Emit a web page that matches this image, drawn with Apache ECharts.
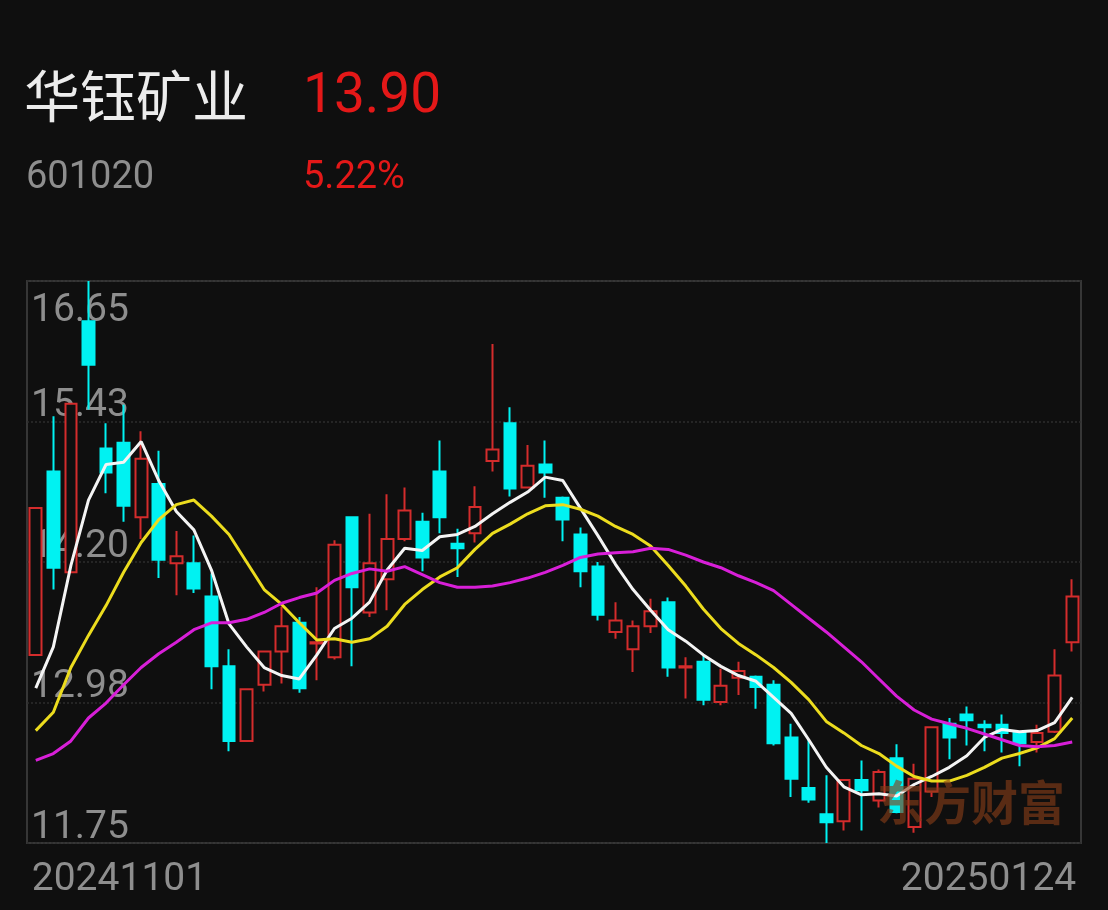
<!DOCTYPE html>
<html>
<head>
<meta charset="utf-8">
<script src="https://cdn.jsdelivr.net/npm/echarts@6/dist/echarts.min.js"></script>
<style>
  html, body { margin: 0; padding: 0; background: #0f0f0f; }
  #chart { width: 1108px; height: 910px; }
</style>
</head>
<body>
<div id="chart"></div>
<script>
// 交易日
const dates = [
  '20241101', '20241104', '20241105', '20241106', '20241107', '20241108',
  '20241111', '20241112', '20241113', '20241114', '20241115',
  '20241118', '20241119', '20241120', '20241121', '20241122',
  '20241125', '20241126', '20241127', '20241128', '20241129',
  '20241202', '20241203', '20241204', '20241205', '20241206',
  '20241209', '20241210', '20241211', '20241212', '20241213',
  '20241216', '20241217', '20241218', '20241219', '20241220',
  '20241223', '20241224', '20241225', '20241226', '20241227',
  '20241230', '20241231',
  '20250102', '20250103',
  '20250106', '20250107', '20250108', '20250109', '20250110',
  '20250113', '20250114', '20250115', '20250116', '20250117',
  '20250120', '20250121', '20250122', '20250123', '20250124'
]

// K线
const opens = [13.39, 14.99, 14.11, 16.30, 15.19, 15.24, 14.59, 14.88, 14.19, 14.19,
  13.90, 13.29, 12.64, 13.13, 13.42, 13.67, 13.49, 13.37, 14.59, 13.76,
  14.05, 14.40, 14.55, 14.99, 14.36, 14.45, 15.08, 15.41, 14.85, 15.05,
  14.76, 14.44, 14.16, 13.59, 13.44, 13.64, 13.85, 13.28, 13.33, 12.98,
  13.19, 13.20, 13.13, 12.67, 12.23, 12.00, 11.94, 12.30, 12.12, 12.49,
  11.89, 12.20, 12.79, 12.87, 12.78, 12.78, 12.71, 12.63, 12.72, 13.50]
const closes = [14.67, 14.15, 15.58, 15.92, 14.98, 14.69, 15.10, 14.22, 14.25, 13.97,
  13.29, 12.64, 13.09, 13.42, 13.64, 13.10, 13.50, 14.35, 13.98, 14.19,
  14.40, 14.65, 14.24, 14.59, 14.32, 14.68, 15.18, 14.84, 15.04, 14.98,
  14.57, 14.12, 13.74, 13.69, 13.64, 13.77, 13.28, 13.29, 13.00, 13.12,
  13.25, 13.11, 12.62, 12.31, 12.13, 11.93, 12.30, 12.21, 12.37, 12.02,
  12.31, 12.76, 12.67, 12.82, 12.76, 12.71, 12.62, 12.71, 13.21, 13.90]
const lows = [13.39, 13.96, 14.11, 15.53, 14.80, 14.55, 14.40, 14.06, 13.91, 13.93,
  13.09, 12.55, 12.64, 13.07, 13.14, 13.06, 13.17, 13.35, 13.29, 13.72,
  13.78, 14.38, 14.12, 14.45, 14.07, 14.37, 14.99, 14.77, 14.85, 14.76,
  14.38, 13.98, 13.69, 13.53, 13.24, 13.58, 13.20, 13.01, 12.95, 12.95,
  13.04, 12.92, 12.60, 12.15, 12.10, 11.75, 11.86, 11.86, 12.06, 12.01,
  11.84, 12.15, 12.48, 12.60, 12.55, 12.54, 12.42, 12.54, 12.71, 13.42]
const highs = [14.67, 15.47, 15.58, 16.65, 15.41, 15.57, 15.34, 15.17, 14.47, 14.43,
  14.10, 13.44, 13.09, 13.42, 13.81, 13.72, 13.98, 14.39, 14.59, 14.62,
  14.79, 14.85, 14.63, 15.26, 14.49, 14.86, 16.10, 15.55, 15.22, 15.26,
  14.77, 14.50, 14.20, 13.85, 13.69, 13.88, 13.89, 13.37, 13.39, 13.27,
  13.33, 13.21, 13.17, 12.79, 12.65, 12.34, 12.30, 12.47, 12.39, 12.61,
  12.44, 12.76, 12.84, 12.94, 12.82, 12.87, 12.71, 12.78, 13.44, 14.05]

// 均线
const ma5 = [13.10, 13.46, 14.17, 14.74, 15.05, 15.07, 15.25, 14.91, 14.64, 14.48,
  14.13, 13.66, 13.46, 13.28, 13.21, 13.18, 13.39, 13.62, 13.71, 13.85,
  14.13, 14.32, 14.30, 14.42, 14.44, 14.51, 14.62, 14.72, 14.81, 14.94,
  14.91, 14.67, 14.43, 14.18, 13.96, 13.78, 13.61, 13.51, 13.39, 13.29,
  13.21, 13.16, 13.02, 12.88, 12.65, 12.41, 12.24, 12.17, 12.18, 12.16,
  12.26, 12.33, 12.41, 12.51, 12.67, 12.74, 12.72, 12.73, 12.80, 13.02]
const ma10 = [12.73, 12.89, 13.28, 13.56, 13.82, 14.11, 14.37, 14.57, 14.70, 14.74,
  14.60, 14.44, 14.20, 13.96, 13.83, 13.67, 13.52, 13.53, 13.50, 13.53,
  13.64, 13.83, 13.96, 14.07, 14.15, 14.31, 14.45, 14.53, 14.62, 14.69,
  14.70, 14.66, 14.60, 14.51, 14.44, 14.34, 14.17, 13.99, 13.79, 13.62,
  13.49, 13.39, 13.28, 13.15, 13.00, 12.81, 12.71, 12.60, 12.53, 12.42,
  12.33, 12.29, 12.29, 12.34, 12.41, 12.49, 12.53, 12.58, 12.66, 12.84]
const ma20 = [12.47, 12.53, 12.64, 12.84, 12.97, 13.13, 13.28, 13.40, 13.50, 13.61,
  13.67, 13.67, 13.70, 13.76, 13.84, 13.89, 13.93, 14.04, 14.10, 14.14,
  14.12, 14.16, 14.09, 14.02, 13.98, 13.98, 13.99, 14.02, 14.06, 14.11,
  14.17, 14.24, 14.27, 14.28, 14.29, 14.32, 14.31, 14.26, 14.20, 14.15,
  14.08, 14.02, 13.95, 13.83, 13.71, 13.59, 13.46, 13.33, 13.18, 13.03,
  12.91, 12.83, 12.79, 12.75, 12.70, 12.65, 12.60, 12.59, 12.60, 12.63]

const yLabels = ['11.75', '12.98', '14.20', '15.43', '16.65']
const priceMin = 11.75
const priceMax = 16.65

const RED = '#d42c2c'
const CYAN = '#00f2f2'
const BG = '#0f0f0f'

const kData = dates.map((d, i) => [opens[i], closes[i], lows[i], highs[i]])

const chart = echarts.init(document.getElementById('chart'))
chart.setOption({
  backgroundColor: BG,
  animation: false,
  title: [
    {text: '华钰矿业', left: 24, top: 68, padding: 0,
      textStyle: {color: '#ececec', fontSize: 56, fontWeight: 'normal', fontFamily: 'Noto Sans CJK SC'}},
    {text: '13.90', left: 303, top: 71, padding: 0,
      textStyle: {color: '#e41818', fontSize: 55, fontWeight: 'normal', fontFamily: 'Roboto'}},
    {text: '601020', left: 26, top: 159, padding: 0,
      textStyle: {color: '#8e8e8e', fontSize: 38, fontWeight: 'normal', fontFamily: 'Roboto'}},
    {text: '5.22%', left: 303, top: 159, padding: 0,
      textStyle: {color: '#e41818', fontSize: 38, fontWeight: 'normal', fontFamily: 'Roboto'}}
  ],
  graphic: [
    // 水印
    {type: 'text', left: 877, top: 779, z: 10,
      style: {text: '东方财富', fill: 'rgba(135,62,24,0.62)', font: 'bold 47px "Noto Sans CJK SC"'}}
  ],
  grid: {
    left: 27, right: 27, top: 281, bottom: 67,
    show: true, borderColor: '#363636', borderWidth: 2
  },
  xAxis: {
    type: 'category',
    data: dates,
    boundaryGap: true,
    axisLine: {show: false},
    axisTick: {show: false},
    splitLine: {show: false},
    axisLabel: {
      color: '#8e8e8e', fontSize: 39, fontFamily: 'Roboto', margin: 18,
      padding: [0, -4, 0, -4],
      interval: (idx) => idx === 0 || idx === dates.length - 1,
      alignMinLabel: 'left', alignMaxLabel: 'right'
    }
  },
  yAxis: [
    {
      type: 'value', min: priceMin, max: priceMax, scale: true,
      show: false, splitLine: {show: false}
    },
    {
      type: 'value', min: 0, max: 4, interval: 1, position: 'left',
      axisLine: {show: false}, axisTick: {show: false},
      splitLine: {show: true, lineStyle: {color: '#2e2e2e', type: [2, 2], width: 1.5}},
      axisLabel: {
        inside: true, margin: 4, color: '#8e8e8e', fontSize: 39, fontFamily: 'Roboto',
        verticalAlign: 'bottom', lineHeight: 30, showMaxLabel: false,
        formatter: (v) => yLabels[v]
      }
    },
    {
      type: 'value', min: 0, max: 4, interval: 1, position: 'left',
      axisLine: {show: false}, axisTick: {show: false}, splitLine: {show: false},
      axisLabel: {
        inside: true, margin: 4, color: '#8e8e8e', fontSize: 39, fontFamily: 'Roboto',
        verticalAlign: 'top', lineHeight: 60,
        formatter: (v) => (v === 4 ? yLabels[v] : '')
      }
    }
  ],
  series: [
    {
      type: 'candlestick',
      yAxisIndex: 0,
      data: kData,
      barWidth: '70%',
      itemStyle: {
        color: BG,
        color0: CYAN,
        borderColor: RED,
        borderColor0: CYAN,
        borderWidth: 2
      }
    },
    {
      name: 'MA5', type: 'line', yAxisIndex: 0, data: ma5,
      showSymbol: false, symbol: 'none',
      lineStyle: {color: '#f4f4f4', width: 3}
    },
    {
      name: 'MA10', type: 'line', yAxisIndex: 0, data: ma10,
      showSymbol: false, symbol: 'none',
      lineStyle: {color: '#ecdc1e', width: 3}
    },
    {
      name: 'MA20', type: 'line', yAxisIndex: 0, data: ma20,
      showSymbol: false, symbol: 'none',
      lineStyle: {color: '#d81fd8', width: 3}
    }
  ]
})
</script>
</body>
</html>
